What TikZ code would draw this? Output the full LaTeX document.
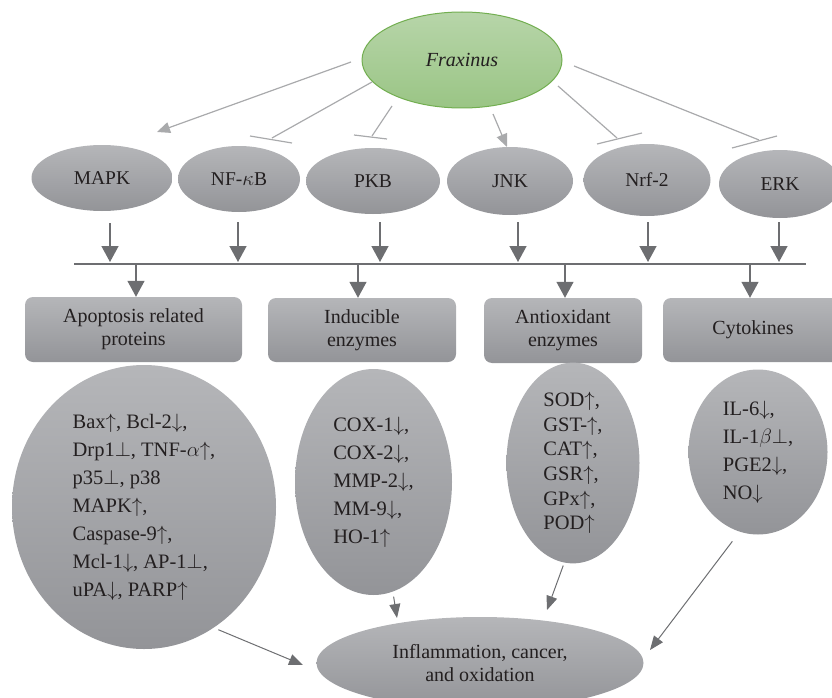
\documentclass[tikz,border=0pt]{standalone}
\usepackage{amsmath}
\usepackage{fontspec}
\setmainfont{Liberation Serif}
\usetikzlibrary{arrows.meta, positioning, shapes.geometric}
\definecolor{sigtop}{HTML}{B5B6B9}
\definecolor{sigbot}{HTML}{939498}
\definecolor{leaftop}{HTML}{B7D5A9}
\definecolor{leafbot}{HTML}{9AC585}
\definecolor{leafrim}{HTML}{72AE50}
\definecolor{thinline}{HTML}{A9AAAC}
\definecolor{darkline}{HTML}{6D6E71}
\definecolor{ink}{HTML}{231F20}
\tikzset{
	root/.style={ellipse, draw=leafrim, line width=1pt, inner sep=0pt, top color=leaftop, bottom color=leafbot, text=ink, font=\fontsize{20}{23}\selectfont\itshape},
	signal/.style={ellipse, inner sep=0pt, top color=sigtop, bottom color=sigbot, text=ink, font=\fontsize{19.5}{23}\selectfont},
	group/.style={rectangle, rounded corners=8pt, inner sep=0pt, top color=sigtop, bottom color=sigbot, text=ink, align=center, font=\fontsize{20}{23}\selectfont},
	% ellipses holding the marker lists
	effect/.style={ellipse, inner sep=0pt, top color=sigtop, bottom color=sigbot, text=ink, align=left, font=\fontsize{20.5}{28}\selectfont},
	activ/.style={draw=thinline, line width=1.2pt, -{Triangle[width=11pt,length=13pt]}},
	block/.style={draw=thinline, line width=1.2pt},
	flow/.style={draw=darkline, line width=1.4pt, -{Triangle[width=17pt,length=16pt]}},
	into/.style={draw=darkline, line width=1pt, -{Triangle[width=11pt,length=14pt]}},
}

\begin{document}
\begin{tikzpicture}[x=1pt, y=-1pt]
		\useasboundingbox (0,0) rectangle (832,698);
		
		\node (frax) [root, minimum width=200pt, minimum height=96pt] at (462,60) {Fraxinus};
		
		\node (mapk) [signal, minimum width=141pt, minimum height=66pt] at (102,178) {MAPK};
		\node (nfkb) [signal, minimum width=122pt, minimum height=66pt] at (239,179) {NF-$\kappa$B};
		\node (pkb) [signal, minimum width=134pt, minimum height=66pt] at (373,181) {PKB};
		\node (jnk) [signal, minimum width=126pt, minimum height=68pt] at (510,181) {JNK};
		\node (nrf) [signal, minimum width=127pt, minimum height=72pt] at (647,180) {Nrf-2};
		\node (erk) [signal, minimum width=122pt, minimum height=68pt] at (780,184) {ERK};
		
		\node (apop) [group, minimum width=217pt, minimum height=65pt] at (133.5,329.5) {Apoptosis related\\proteins};
		\node (indu) [group, minimum width=188pt, minimum height=64pt] at (362,330) {Inducible\\enzymes};
		\node (anti) [group, minimum width=158pt, minimum height=65pt] at (563,330.5) {Antioxidant\\enzymes};
		\node (cyto) [group, minimum width=180pt, minimum height=64pt] at (753,330) {Cytokines};
		
		\node (apopE) [effect, minimum width=264pt, minimum height=284pt] at (144,507) {Bax$\uparrow$, Bcl-2$\downarrow$,\\Drp1$\perp$, TNF-$\alpha$$\uparrow$,\\p35$\perp$, p38\\MAPK$\uparrow$,\\Caspase-9$\uparrow$,\\Mcl-1$\downarrow$, AP-1$\perp$,\\uPA$\downarrow$, PARP$\uparrow$};
		\node (induE) [effect, minimum width=157pt, minimum height=226pt] at (373.5,482) {COX-1$\downarrow$,\\COX-2$\downarrow$,\\MMP-2$\downarrow$,\\MM-9$\downarrow$,\\HO-1$\uparrow$};
		\node (antiE) [effect, minimum width=133pt, minimum height=190pt, font=\fontsize{20.5}{24.7}\selectfont] at (573,463) {SOD$\uparrow$,\\GST-$\uparrow$,\\CAT$\uparrow$,\\GSR$\uparrow$,\\GPx$\uparrow$,\\POD$\uparrow$};
		\node (cytoE) [effect, minimum width=139pt, minimum height=165pt] at (758,452) {IL-6$\downarrow$,\\IL-1$\beta$$\perp$,\\PGE2$\downarrow$,\\NO$\downarrow$};
		
		\node (out) [effect, align=center, minimum width=327pt, minimum height=92pt, font=\fontsize{20}{23}\selectfont] at (480,663) {Inflammation, cancer,\\and oxidation};
		
		% ends of the links from Fraxinus
		\coordinate (tMAPK) at (157,132);
		\coordinate (tNF) at (272,138);
		\coordinate (tPKB) at (372,136);
		\coordinate (tJNK) at (507,147);
		\coordinate (tNRF) at (617,138);
		\coordinate (tERK) at (759,140);
		
		\draw[activ] ([shift={(-111,2)}]frax.center) -- (tMAPK);
		\draw[block] ([shift={(-90,22)}]frax.center) -- (tNF);
		\draw[block] ([shift={(-70,46)}]frax.center) -- (tPKB);
		\draw[activ] ([shift={(31,54)}]frax.center) -- (tJNK);
		\draw[block] ([shift={(96,26)}]frax.center) -- (tNRF);
		\draw[block] ([shift={(112,6)}]frax.center) -- (tERK);
		
		\draw[block] ([shift={(-22,-2)}]tNF) -- ([shift={(20,5)}]tNF);
		\draw[block] ([shift={(-18,-1)}]tPKB) -- ([shift={(15,3)}]tPKB);
		\draw[block] ([shift={(-20,6)}]tNRF) -- ([shift={(25,-5)}]tNRF);
		\draw[block] ([shift={(-27,8)}]tERK) -- ([shift={(18,-4)}]tERK);
		
		% common line
		\coordinate (busL) at (74,264);
		\coordinate (busR) at (806,264);
		\draw[draw=darkline, line width=1.6pt] (busL) -- (busR);
		
		\begin{scope}[flow]
			\draw (mapk.south -| 110,0) ++(0,12) -- (110,262);
			\draw (nfkb.south -| 238,0) ++(0,10) -- (238,262);
			\draw (pkb.south -| 380,0) ++(0,8) -- (380,262);
			\draw (jnk.south -| 518,0) ++(0,7) -- (518,262);
			\draw (nrf.south -| 648,0) ++(0,6) -- (648,262);
			\draw (erk.south -| 779,0) ++(0,4) -- (779,262);
			
			\draw (busL -| 136,0) -- (apop.north -| 136,0);
			\draw (busL -| 358,0) -- (indu.north -| 358,0);
			\draw (busL -| 565,0) -- (anti.north -| 565,0);
			\draw (busL -| 750,0) -- (cyto.north -| 750,0);
		\end{scope}
		
		% into the outcome
		\coordinate (tA) at (303,665);
		\coordinate (tI) at (397,618);
		\coordinate (tO) at (547,610);
		\coordinate (tC) at (650,650);
		\begin{scope}[into]
			\draw[shorten <=5pt] (apopE.-60) -- (tA);
			\draw[shorten <=5pt] (induE.-80) -- (tI);
			\draw[shorten <=3pt] (antiE.-95) -- (tO);
			\draw[shorten <=12pt] (cytoE.-103) -- (tC);
		\end{scope}
	\end{tikzpicture}
\end{document}
